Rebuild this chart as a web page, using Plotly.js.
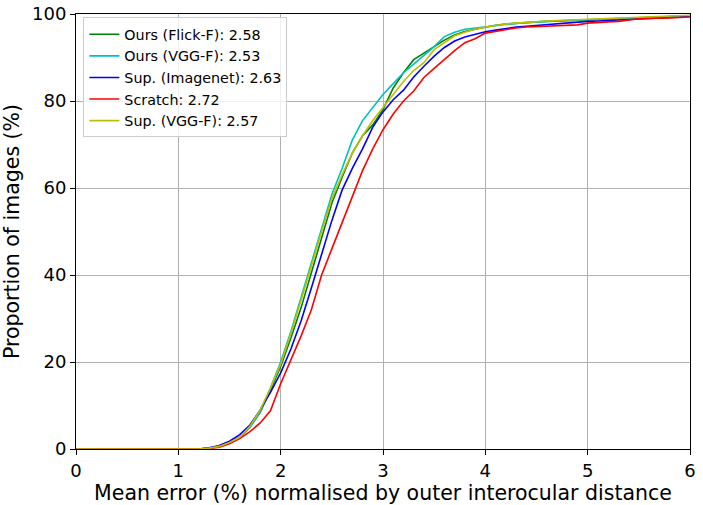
<!DOCTYPE html>
<html>
<head>
<meta charset="utf-8">
<script src="https://cdn.plot.ly/plotly-3.0.1.min.js"></script>
<style>html,body{margin:0;padding:0;background:#fff;}#chart{width:703px;height:505px;}</style>
</head>
<body>
<div id="chart"></div>
<script>
// x grid: 0.0, 0.1, ... 6.0
const xValues = [0,0.1,0.2,0.3,0.4,0.5,0.6,0.7,0.8,0.9,1.0,1.1,1.2,1.3,1.4,1.5,1.6,1.7,1.8,1.9,2.0,2.1,2.2,2.3,2.4,2.5,2.6,2.7,2.8,2.9,3.0,3.1,3.2,3.3,3.4,3.5,3.6,3.7,3.8,3.9,4.0,4.1,4.2,4.3,4.4,4.5,4.6,4.7,4.8,4.9,5.0,5.1,5.2,5.3,5.4,5.5,5.6,5.7,5.8,5.9,6.0];

const seriesNames = ["Ours (Flick-F): 2.58","Ours (VGG-F): 2.53","Sup. (Imagenet): 2.63","Scratch: 2.72","Sup. (VGG-F): 2.57"];
const seriesColors = ["#008000","#00bfbf","#0000ff","#ff0000","#bfbf00"];

const oursFlick = [0,0,0,0,0,0,0,0,0,0,0,0,0,0.2,0.6,1.5,2.7,5,8.5,13.5,19,25.5,32.5,40.5,48.5,56.5,62.5,68,72,74.5,78,83,86.5,89.5,91,92.5,94,95.2,96,96.5,97,97.4,97.7,97.9,98.1,98.2,98.3,98.4,98.5,98.6,98.7,98.8,98.9,99,99.1,99.2,99.3,99.3,99.4,99.5,99.6];
const oursVGG = [0,0,0,0,0,0,0,0,0,0,0,0,0,0.2,0.6,1.5,2.5,5,8.5,14,20,27,35,43,51,58.5,64.5,71,75.5,78.5,81.5,84,86.5,88.5,90.5,92.5,94.8,95.8,96.5,96.8,97,97.3,97.6,97.8,98,98.1,98.3,98.4,98.5,98.6,98.7,98.8,98.9,99,99.1,99.2,99.3,99.3,99.4,99.5,99.6];
const supImagenet = [0,0,0,0,0,0,0,0,0,0,0,0,0,0.3,0.8,1.8,3.3,5.5,9,13,17.5,23,29.5,37,45,52.5,59.5,64.5,69,74,77.5,80.3,82.5,85.5,88,90.3,92.3,93.8,94.7,95.3,95.9,96.3,96.7,97,97.2,97.4,97.6,97.8,98,98.1,98.3,98.4,98.5,98.6,98.8,98.9,99,99.1,99.2,99.3,99.5];
const scratch = [0,0,0,0,0,0,0,0,0,0,0,0,0,0.1,0.4,1.2,2.4,4,6,8.8,15,20.5,26,32,40,46,52,58,64,69,73.4,77,80,82.3,85.4,87.5,89.6,91.6,93.4,94.3,95.6,96,96.4,96.8,97,97.1,97.2,97.3,97.4,97.5,97.9,98.1,98.2,98.3,98.6,98.9,99,99,99.1,99.2,99.3];
const supVGG = [0,0,0,0,0,0,0,0,0,0,0,0,0,0.2,0.6,1.5,2.7,5.2,9,14,19.5,26.5,34,42,50,57.5,63,68,72,75.5,78.5,81.5,84.5,87,88.8,91.8,93.5,95,95.8,96.5,97,97.4,97.7,97.9,98.1,98.2,98.4,98.5,98.6,98.7,98.8,98.9,99,99.1,99.2,99.2,99.3,99.4,99.5,99.6,99.7];

const xTicks = [0,1,2,3,4,5,6];
const yTicks = [0,20,40,60,80,100];

const allSeries = [oursFlick, oursVGG, supImagenet, scratch, supVGG];
const traces = allSeries.map((ys, i) => ({
  x: xValues, y: ys, type: 'scatter', mode: 'lines',
  name: seriesNames[i],
  line: {color: seriesColors[i], width: 1.6}
}));

const layout = {
  width: 703, height: 505,
  margin: {l: 76, r: 13, t: 14, b: 56},
  paper_bgcolor: '#fff', plot_bgcolor: '#fff',
  font: {family: 'DejaVu Sans', color: '#000'},
  showlegend: true,
  legend: {
    x: 0.012, y: 0.992, xanchor: 'left', yanchor: 'top',
    bgcolor: 'rgba(255,255,255,0.8)', bordercolor: '#cccccc', borderwidth: 1,
    font: {family: 'DejaVu Sans', size: 14.3, color: '#000'}
  },
  xaxis: {
    range: [0, 6], tickvals: xTicks, ticktext: xTicks.map(String),
    showgrid: true, gridcolor: '#b0b0b0', gridwidth: 1,
    zeroline: false, showline: true, linecolor: '#000', linewidth: 1, mirror: true,
    ticks: 'outside', ticklen: 5, tickcolor: '#000',
    tickfont: {family: 'DejaVu Sans', size: 18},
    title: {text: 'Mean error (%) normalised by outer interocular distance', font: {family: 'DejaVu Sans', size: 20.5}, standoff: 3}
  },
  yaxis: {
    range: [0, 100], tickvals: yTicks, ticktext: yTicks.map(String),
    showgrid: true, gridcolor: '#b0b0b0', gridwidth: 1,
    zeroline: false, showline: true, linecolor: '#000', linewidth: 1, mirror: true,
    ticks: 'outside', ticklen: 5, tickcolor: '#000',
    tickfont: {family: 'DejaVu Sans', size: 18},
    title: {text: 'Proportion of images (%)', font: {family: 'DejaVu Sans', size: 20.5}, standoff: 6}
  }
};

Plotly.newPlot('chart', traces, layout, {displayModeBar: false, staticPlot: true});
</script>
</body>
</html>
